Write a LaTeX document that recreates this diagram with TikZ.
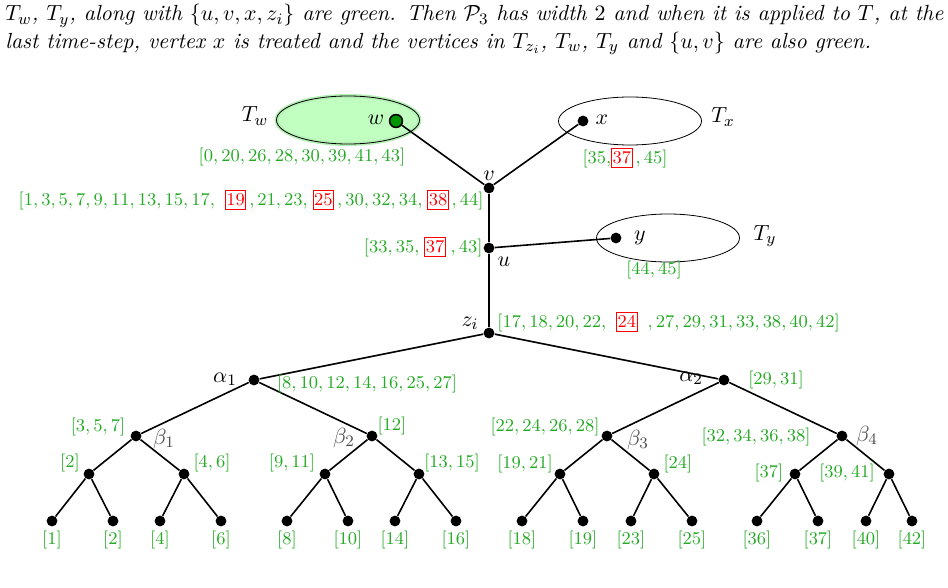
\documentclass[tikz,border=0pt]{standalone}
\usepackage{amsmath}
\usetikzlibrary{shapes.geometric}

\definecolor{lgreen}{RGB}{34,170,34}
\definecolor{lightfill}{RGB}{192,255,192}
\definecolor{halo}{RGB}{180,240,180}
\definecolor{wgreen}{RGB}{0,150,0}

% red framed entry inside a green list
\newcommand{\rbx}[1]{\setlength{\fboxsep}{0.3pt}\fcolorbox{red}{white}{\textcolor{red}{\rule[-1.4pt]{0pt}{8.1pt}$#1$}}}

\begin{document}
\begin{tikzpicture}[x=0.5pt, y=-0.5pt,
        dot/.style={circle, fill=black, inner sep=0pt, minimum size=5.4pt},
        gdot/.style={circle, draw=black, fill=wgreen, line width=0.8pt,
                     inner sep=0pt, minimum size=6.4pt},
        subtree/.style={ellipse, draw=black, thin, inner sep=0pt,
                        minimum width=71.5pt, minimum height=24pt},
        lab/.style={font=\small, text=lgreen, inner sep=0pt},
        vname/.style={font=\fontsize{10.95}{13.6}\selectfont, inner sep=0pt},
        gname/.style={vname, text=black!70},
        edge/.style={thick},
    ]
    \useasboundingbox (0,0) rectangle (948,588);

    % caption text
    \node[anchor=north west, text width=469pt, align=justify, inner sep=0pt,
          font=\fontsize{10.95}{13.6}\selectfont\itshape] (cap) at (5,4)
        {$T_w$, $T_y$, along with $\{u,v,x,z_i\}$ are green. Then $\mathcal{P}_3$ has width $2$ and when it is applied to $T$, at the last time-step, vertex $x$ is treated and the vertices in $T_{z_i}$, $T_w$, $T_y$ and $\{u,v\}$ are also green.};

    % subtrees T_w, T_x, T_y
    \node[subtree, draw=halo, line width=2pt, fill=lightfill] (Tw) at (348,120) {};
    \node[subtree] (Twline) at (348,120) {};
    \node[subtree] (Tx) at (630,121) {};
    \node[subtree] (Ty) at (668,238) {};
    \node[vname] (Twl) at (255,116) {$T_w$};
    \node[vname] (Txl) at (723,117) {$T_x$};
    \node[vname] (Tyl) at (765,236) {$T_y$};

    % spine
    \node[gdot] (w) at (396,121) {};
    \node[dot] (x) at (583,121) {};
    \node[dot] (v) at (489,188) {};
    \node[dot] (u) at (489,248) {};
    \node[dot] (y) at (616,238) {};
    \node[dot] (z) at (489,333) {};
    \node[vname] (wl) at (376,120) {$w$};
    \node[vname] (xl) at (602,120) {$x$};
    \node[vname] (vl) at (489,176) {$v$};
    \node[vname] (ul) at (504,262) {$u$};
    \node[vname] (yl) at (640,238) {$y$};
    \node[vname] (zl) at (470,323) {$z_i$};

    % alpha / beta level
    \node[dot] (a1) at (254,380) {};
    \node[dot] (a2) at (724,380) {};
    \node[dot] (b1) at (136,436) {};
    \node[dot] (b2) at (372,436) {};
    \node[dot] (b3) at (607,436) {};
    \node[dot] (b4) at (842,436) {};
    \node[vname] (a1l) at (225,379) {$\alpha_1$};
    \node[vname] (a2l) at (691,378) {$\alpha_2$};
    \node[gname] (b1l) at (164,439) {$\beta_1$};
    \node[gname] (b2l) at (344,438) {$\beta_2$};
    \node[gname] (b3l) at (638,440) {$\beta_3$};
    \node[gname] (b4l) at (867,436) {$\beta_4$};

    % third level
    \node[dot] (c1) at (89,474) {};
    \node[dot] (c2) at (184,474) {};
    \node[dot] (c3) at (325,474) {};
    \node[dot] (c4) at (419,474) {};
    \node[dot] (c5) at (560,474) {};
    \node[dot] (c6) at (654,474) {};
    \node[dot] (c7) at (795,474) {};
    \node[dot] (c8) at (889,474) {};

    % leaves with their lists
    \foreach \i/\xx/\t in {1/52/1, 2/113/2, 3/160/4, 4/221/6, 5/287/8, 6/348/10,
                           7/395/14, 8/456/16, 9/522/18, 10/583/19, 11/631/23,
                           12/692/25, 13/757/36, 14/818/37, 15/866/40, 16/912/42}
    {
        \node[dot] (d\i) at (\xx,521) {};
        \node[lab] (ld\i) at (\xx,540) {$[\t]$};
    }

    % edges
    \draw[edge] (w) -- (v);
    \draw[edge] (x) -- (v);
    \draw[edge] (v) -- (u);
    \draw[edge] (u) -- (y);
    \draw[edge] (u) -- (z);
    \draw[edge] (z) -- (a1);
    \draw[edge] (z) -- (a2);
    \draw[edge] (a1) -- (b1);
    \draw[edge] (a1) -- (b2);
    \draw[edge] (a2) -- (b3);
    \draw[edge] (a2) -- (b4);
    \foreach \p/\l/\r in {b1/c1/c2, b2/c3/c4, b3/c5/c6, b4/c7/c8}
        \draw[edge] (\l) -- (\p) -- (\r);
    \foreach \p/\l/\r in {c1/d1/d2, c2/d3/d4, c3/d5/d6, c4/d7/d8,
                          c5/d9/d10, c6/d11/d12, c7/d13/d14, c8/d15/d16}
        \draw[edge] (\l) -- (\p) -- (\r);

    % green lists
    \node[lab] (lw) at (302,157) {$[0, 20, 26, 28, 30, 39, 41, 43]$};
    \node[lab] (lx) at (625,158) {$[35,$\rbx{37}\,$, 45]$};
    \node[lab, anchor=east] (lv) at (484,200)
        {$[1, 3, 5, 7, 9, 11, 13, 15, 17,$\;\;\rbx{19}\,$, 21, 23,$\;\rbx{25}\,$, 30, 32, 34,$\;\rbx{38}\,$, 44]$};
    \node[lab, anchor=east] (lu) at (483,247) {$[33, 35,$\;\rbx{37}\;$, 43]$};
    \node[lab] (ly) at (654,270) {$[44, 45]$};
    \node[lab, anchor=west] (lz) at (497,322)
        {$[17, 18, 20, 22,$\;\;\rbx{24}\;\;$, 27, 29, 31, 33, 38, 40, 42]$};
    \node[lab] (la1) at (367,384) {$[8, 10, 12, 14, 16, 25, 27]$};
    \node[lab] (la2) at (776,380) {$[29, 31]$};
    \node[lab] (lb1) at (98,427) {$[3, 5, 7]$};
    \node[lab] (lb2) at (392,426) {$[12]$};
    \node[lab] (lb3) at (545,427) {$[22, 24, 26, 28]$};
    \node[lab] (lb4) at (756,437) {$[32, 34, 36, 38]$};
    \node[lab] (lc1) at (70,463) {$[2]$};
    \node[lab] (lc2) at (212,463) {$[4, 6]$};
    \node[lab] (lc3) at (292,463) {$[9, 11]$};
    \node[lab] (lc4) at (452,463) {$[13, 15]$};
    \node[lab] (lc5) at (525,464) {$[19, 21]$};
    \node[lab] (lc6) at (678,464) {$[24]$};
    \node[lab] (lc7) at (769,473) {$[37]$};
    \node[lab] (lc8) at (847,473) {$[39, 41]$};

\end{tikzpicture}
\end{document}
